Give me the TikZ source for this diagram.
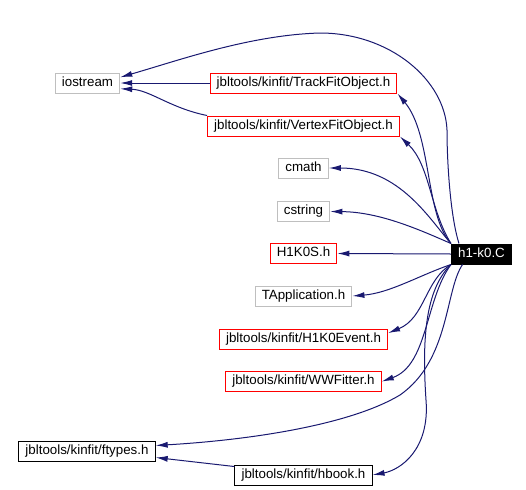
\documentclass[tikz,border=0pt]{standalone}
\usepackage{fontspec}
\setmainfont{Liberation Sans}
\usepackage{tikz}
\usetikzlibrary{arrows.meta}
\definecolor{navy}{HTML}{191970}
\definecolor{sysgray}{HTML}{BFBFBF}
\tikzset{
  file/.style={draw, rectangle, font=\fontsize{10pt}{12pt}\selectfont, inner xsep=5pt, inner ysep=0pt, text height=7.3pt, text depth=2.1pt, minimum height=15pt, line width=0.75pt},
  sysfile/.style={file, draw=sysgray},
  redfile/.style={file, draw=red},
  blackfile/.style={file, draw=black},
  mainfile/.style={file, draw=black, fill=black, text=white},
  edge/.style={draw=navy, line width=0.75pt, -{Latex[length=9pt,width=4.5pt]}}
}
\begin{document}
\begin{tikzpicture}[x=0.75pt,y=-0.75pt]
\useasboundingbox (0,0) rectangle (526,490);
\node[sysfile] (iostream) at (87.5,83) {iostream};
\node[redfile] (trackfit) at (303.5,83) {jbltools/kinfit/TrackFitObject.h};
\node[redfile] (vertexfit) at (303.5,126) {jbltools/kinfit/VertexFitObject.h};
\node[sysfile] (cmath) at (303.5,168) {cmath};
\node[sysfile] (cstring) at (303.5,211.5) {cstring};
\node[redfile] (h1k0s) at (303.5,253.5) {H1K0S.h};
\node[mainfile] (h1k0c) at (481.5,254) {h1-k0.C};
\node[sysfile] (tapp) at (303.5,296) {TApplication.h};
\node[redfile] (event) at (303.5,339) {jbltools/kinfit/H1K0Event.h};
\node[redfile] (wwfitter) at (303.5,381.5) {jbltools/kinfit/WWFitter.h};
\node[blackfile] (ftypes) at (87,451.5) {jbltools/kinfit/ftypes.h};
\node[blackfile] (hbook) at (303.5,475) {jbltools/kinfit/hbook.h};
\draw[edge] (h1k0c.155) .. controls (450,215) and (447,160) .. (447,130) .. controls (445,80) and (390,33) .. (320,33) .. controls (250,35) and (180,60) .. (iostream.10);
\draw[edge] (trackfit.west) -- (iostream.east);
\draw[edge] (vertexfit.north west) .. controls (170,108) and (150,90) .. (iostream.-10);
\draw[edge] (h1k0c.north west) .. controls (425,215) and (432,135) .. (trackfit.south east);
\draw[edge] (h1k0c.north west) .. controls (430,210) and (430,165) .. (vertexfit.south east);
\draw[edge] (h1k0c.north west) .. controls (430,220) and (400,168) .. (cmath.east);
\draw[edge] (h1k0c.north west) .. controls (420,230) and (380,212) .. (cstring.east);
\draw[edge] (h1k0c.west) -- (h1k0s.east);
\draw[edge] (h1k0c.south west) .. controls (420,275) and (390,293) .. (tapp.east);
\draw[edge] (h1k0c.south west) .. controls (425,280) and (425,318) .. (event.4);
\draw[edge] (h1k0c.south west) .. controls (425,300) and (428,365) .. (wwfitter.east);
\draw[edge] (h1k0c.209) .. controls (445,290) and (450,360) .. (400,395) .. controls (350,425) and (250,440) .. (ftypes.5);
\draw[edge] (h1k0c.south west) .. controls (425,290) and (422,340) .. (426,400) .. controls (430,450) and (400,470) .. (hbook.east);
\draw[edge] (hbook.173) -- (ftypes.-5);
\end{tikzpicture}
\end{document}
